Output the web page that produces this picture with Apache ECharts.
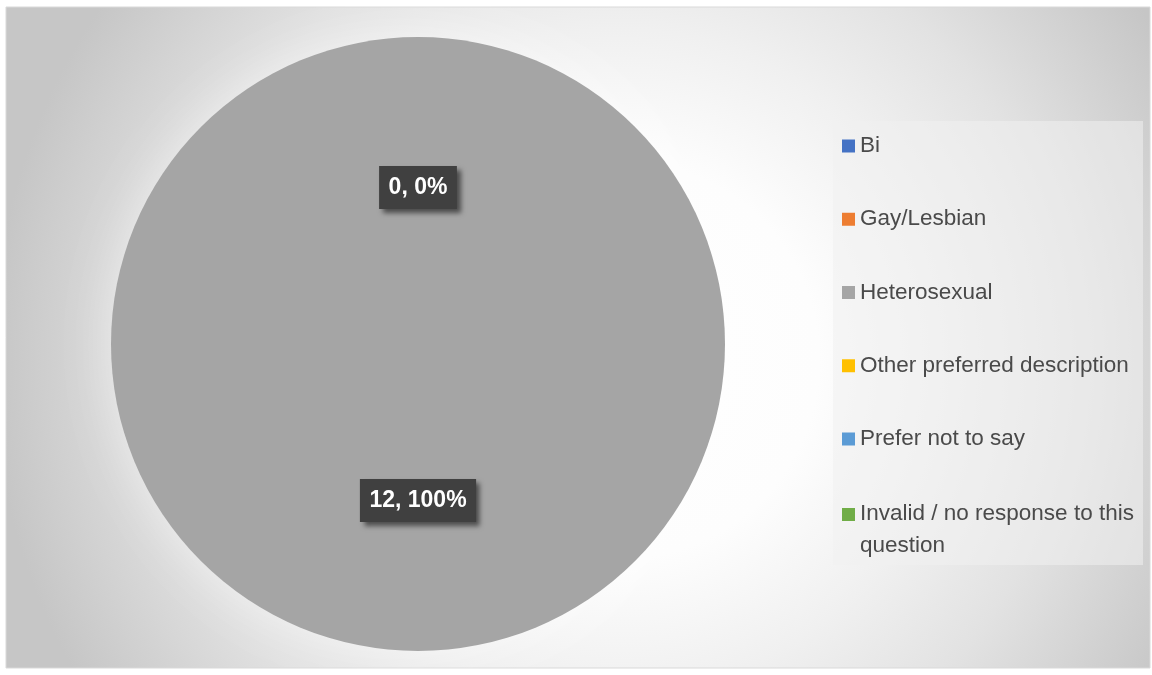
<!DOCTYPE html>
<html>
<head>
<meta charset="utf-8">
<script src="https://cdn.jsdelivr.net/npm/echarts@6/dist/echarts.min.js"></script>
<style>
  html, body { margin: 0; padding: 0; background: #fff; }
  #main { width: 1152px; height: 675px; }
</style>
</head>
<body>
<div id="main"></div>
<script>
// data
var categories = ["Bi", "Gay/Lesbian", "Heterosexual", "Other preferred description", "Prefer not to say", "Invalid / no response to this question"];
var counts = [0, 0, 12, 0, 0, 0];
var colors = ["#4472c4", "#ed7d31", "#a5a5a5", "#ffc000", "#5b9bd5", "#70ad47"];

var chart = echarts.init(document.getElementById("main"));

var pieData = categories.map(function (name, i) {
  return { name: name, value: counts[i], itemStyle: { color: colors[i] } };
});

var legendFont = {
  color: "#4a4a4a",
  fontSize: 22.5,
  fontFamily: "Liberation Sans"
};

var option = {
  animation: false,
  backgroundColor: "#ffffff",
  graphic: [
    {
      type: "rect",
      z: -10,
      shape: { x: 6, y: 7, width: 1144, height: 661 },
      style: {
        fill: new echarts.graphic.RadialGradient(0.537, 0.534, 1.0, [
          { offset: 0, color: "#ffffff" },
          { offset: 0.3, color: "#fdfdfd" },
          { offset: 0.5, color: "#f0f0f0" },
          { offset: 0.68, color: "#e2e2e2" },
          { offset: 0.95, color: "#c6c6c6" },
          { offset: 1, color: "#c6c6c6" }
        ]),
        stroke: "#d9d9d9",
        lineWidth: 1
      }
    },
    {
      // legend box
      type: "rect",
      z: -5,
      shape: { x: 833, y: 121, width: 310, height: 444 },
      style: { fill: "rgba(240,240,240,0.55)" }
    }
  ],
  legend: [
    {
      orient: "vertical",
      left: 833,
      top: 121,
      padding: [9.5, 10, 0, 9],
      itemWidth: 13,
      itemHeight: 13,
      itemGap: 42.25,
      icon: "rect",
      selectedMode: false,
      textStyle: Object.assign({ lineHeight: 31 }, legendFont),
      data: categories.slice(0, 5)
    },
    {
      // last entry wraps; first line sits beside the icon
      orient: "vertical",
      left: 833,
      top: 502.5,
      padding: [0, 10, 0, 9],
      itemWidth: 13,
      itemHeight: 13,
      icon: "rect",
      selectedMode: false,
      textStyle: Object.assign({
        rich: {
          a: Object.assign({ lineHeight: 62 }, legendFont),
          b: Object.assign({ lineHeight: 1 }, legendFont)
        }
      }, legendFont),
      formatter: function () {
        return "{a|Invalid / no response to this}\n{b|question}";
      },
      data: categories.slice(5)
    }
  ],
  series: [
    {
      type: "pie",
      center: [418, 344],
      radius: 307,
      startAngle: 90,
      clockwise: true,
      data: pieData,
      itemStyle: {
        shadowBlur: 50,
        shadowColor: "rgba(255,255,255,0.5)"
      },
      label: {
        show: true,
        position: "inside",
        formatter: "{c}, {d}%",
        color: "#ffffff",
        fontSize: 23,
        fontWeight: "bold",
        fontFamily: "Liberation Sans",
        backgroundColor: "#404040",
        padding: [10, 9.5, 10, 9.5],
        shadowColor: "rgba(0,0,0,0.55)",
        shadowBlur: 5,
        shadowOffsetX: 4,
        shadowOffsetY: 4
      },
      labelLine: { show: false },
      labelLayout: { hideOverlap: true },
      emphasis: { disabled: true }
    }
  ]
};

chart.setOption(option);
</script>
</body>
</html>
